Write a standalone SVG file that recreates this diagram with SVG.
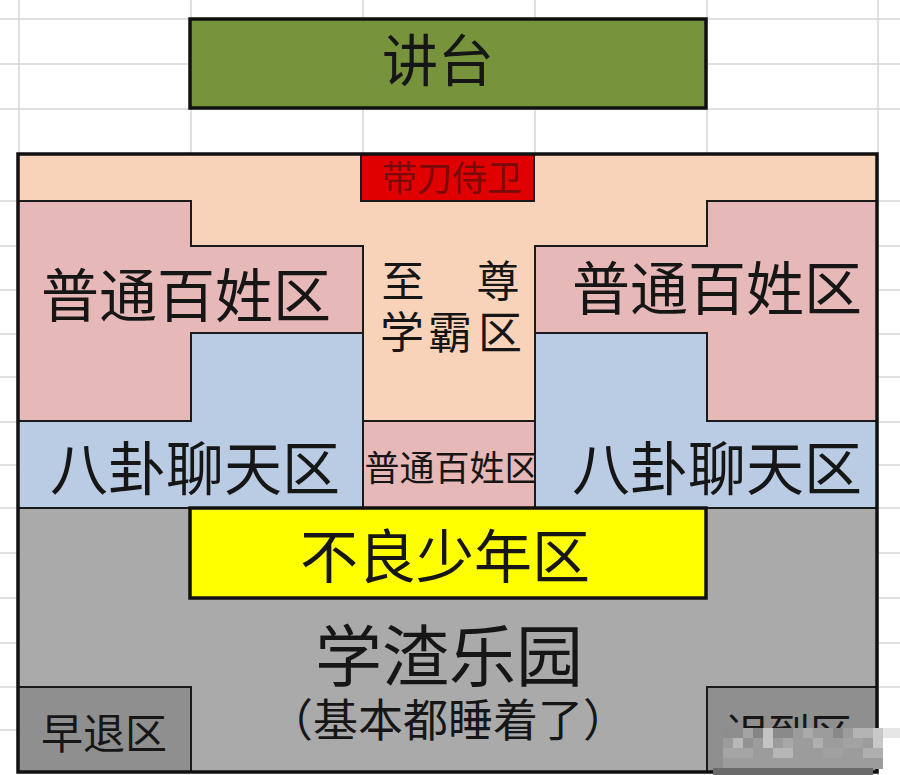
<svg xmlns="http://www.w3.org/2000/svg" width="900" height="775" viewBox="0 0 900 775">
<style>
.grid{stroke:#d6d6d6;stroke-width:1.5;fill:none}
.zone{stroke:#1a1a1a;stroke-width:2}
.thick{stroke:#111;stroke-width:3.5}
.t{font-family:"Noto Sans CJK SC","Noto Sans",sans-serif;fill:#161616;text-anchor:middle}
.peach{fill:#f9d3b9}
.pink{fill:#e6b8b7}
.blue{fill:#b9cce4}
.gray{fill:#aaaaaa}
.dgray{fill:#8f8f8f}
</style>
<rect x="0" y="0" width="900" height="775" fill="#ffffff"/>
<g id="gridlines">
<path class="grid" d="M19 0V154M191 0V154M363 0V154M535 0V154M707 0V154M878 0V775M0 19H900M0 64H900M0 109H900"/>
<path class="grid" d="M0 201H18M0 246H18M0 290H18M0 334H18M0 377H18M0 422H18M0 465H18M0 508H18M0 553H18M0 598H18M0 643H18M0 687H18M0 730H18"/>
<path class="grid" d="M878 201H900M878 246H900M878 290H900M878 334H900M878 377H900M878 422H900M878 465H900M878 508H900M878 553H900M878 598H900M878 643H900M878 687H900M878 730H900"/>
</g>
<g id="podium">
<rect x="190" y="19" width="516" height="89" fill="#77933c" class="thick"/>
<text class="t" x="438" y="81" font-size="56">讲台</text>
</g>
<g id="classroom">
<rect x="18" y="154" width="859" height="354" class="peach"/>
</g>
<g id="guard">
<rect x="361" y="154" width="173" height="47" fill="#e00000" class="zone"/>
<text class="t" x="452" y="191" font-size="35" style="fill:#7a0a0a">带刀侍卫</text>
</g>
<g id="common-left">
<polygon class="pink zone" points="18,201 191,201 191,246 363,246 363,333 191,333 191,421 18,421"/>
<text class="t" x="186" y="317" font-size="58">普通百姓区</text>
</g>
<g id="gossip-left">
<polygon class="blue zone" points="191,333 363,333 363,508 18,508 18,421 191,421"/>
<text class="t" x="195" y="490" font-size="58">八卦聊天区</text>
</g>
<g id="top-scholar">
<text class="t" x="403" y="297" font-size="43">至</text>
<text class="t" x="498" y="297" font-size="43">尊</text>
<text class="t" x="402" y="349" font-size="44">学</text>
<text class="t" x="450" y="349" font-size="44">霸</text>
<text class="t" x="500" y="349" font-size="44">区</text>
</g>
<g id="common-center">
<rect x="363" y="421" width="172" height="87" class="pink zone"/>
<text class="t" x="452" y="481" font-size="35">普通百姓区</text>
</g>
<g id="common-right">
<polygon class="pink zone" points="707,201 877,201 877,421 707,421 707,333 535,333 535,246 707,246"/>
<text class="t" x="717" y="310" font-size="58">普通百姓区</text>
</g>
<g id="gossip-right">
<polygon class="blue zone" points="535,333 707,333 707,421 877,421 877,508 535,508"/>
<text class="t" x="717" y="490" font-size="58">八卦聊天区</text>
</g>
<g id="slacker-park">
<rect x="18" y="508" width="859" height="264" class="gray zone"/>
<text class="t" x="449" y="681" font-size="67">学渣乐园</text>
<text class="t" x="448" y="737" font-size="45">（基本都睡着了）</text>
</g>
<g id="bad-youth">
<rect x="190" y="508" width="516" height="90" fill="#ffff00" class="thick"/>
<text class="t" x="445" y="578" font-size="58">不良少年区</text>
</g>
<g id="leave-early">
<rect x="18" y="687" width="173" height="85" class="dgray zone"/>
<text class="t" x="104" y="749" font-size="42">早退区</text>
</g>
<g id="late-arrival">
<rect x="707" y="687" width="170" height="85" class="dgray zone"/>
<text class="t" x="789" y="749" font-size="42">迟到区</text>
</g>
<rect x="18" y="154" width="859" height="618" fill="none" class="thick"/>
<g id="mosaic">
<rect x="723" y="728" width="160" height="41" fill="#9c9c9c"/>
<rect x="723" y="728" width="20" height="10" fill="#8e8e8e"/>
<rect x="743" y="728" width="10" height="10" fill="#a4a4a4"/>
<rect x="753" y="728" width="10" height="10" fill="#858585"/>
<rect x="763" y="728" width="10" height="20" fill="#c4c4c4"/>
<rect x="773" y="728" width="20" height="10" fill="#8a8a8a"/>
<rect x="803" y="728" width="10" height="10" fill="#ababab"/>
<rect x="833" y="728" width="10" height="10" fill="#888888"/>
<rect x="853" y="728" width="20" height="10" fill="#b4b4b4"/>
<rect x="873" y="728" width="10" height="20" fill="#c8c8c8"/>
<rect x="883" y="728" width="17" height="10" fill="#e6e6e6"/>
<rect x="733" y="738" width="10" height="10" fill="#b8b8b8"/>
<rect x="743" y="738" width="10" height="10" fill="#929292"/>
<rect x="783" y="738" width="10" height="10" fill="#a8a8a8"/>
<rect x="813" y="738" width="10" height="10" fill="#b0b0b0"/>
<rect x="843" y="738" width="20" height="10" fill="#a2a2a2"/>
<rect x="723" y="748" width="30" height="10" fill="#a5a5a5"/>
<rect x="773" y="748" width="20" height="10" fill="#b6b6b6"/>
<rect x="823" y="748" width="20" height="10" fill="#a0a0a0"/>
<rect x="863" y="748" width="20" height="10" fill="#aeaeae"/>
<rect x="713" y="768" width="160" height="7" fill="#6a6a6a"/>
</g>
</svg>
